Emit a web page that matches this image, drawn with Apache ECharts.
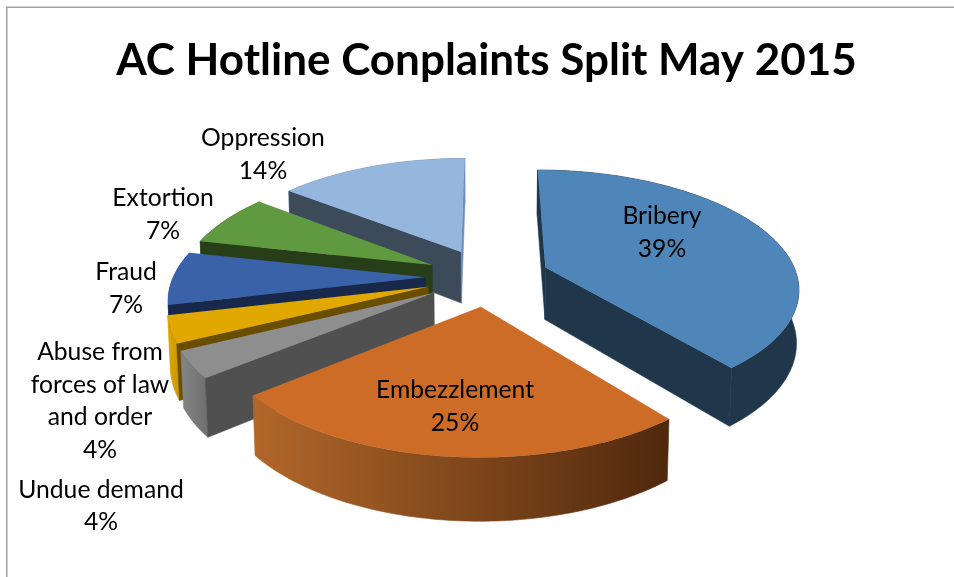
<!DOCTYPE html>
<html>
<head>
<meta charset="utf-8">
<style>html,body{margin:0;padding:0;background:#fff}#c{width:954px;height:577px}</style>
<script src="https://cdn.jsdelivr.net/npm/echarts@6/dist/echarts.min.js"></script>
</head>
<body>
<div id="c"></div>
<script>
const titleText = 'AC Hotline Conplaints Split May 2015';
const categories = ['Bribery','Embezzlement','Undue demand','Abuse from forces of law and order','Fraud','Extortion','Oppression'];
const values = [39.2,24.9,3.6,3.6,7.2,7.1,14.4];

// label wrapping and placement (layout only)
const labelLines = [['Bribery'],['Embezzlement'],['Undue demand'],['Abuse from','forces of law','and order'],['Fraud'],['Extortion'],['Oppression']];
const labelAt = [[662,232.5],[455,406.5],[101,506],[100,401],[126,288.5],[163,214.5],[263,154.5]];

// colours per slice: top face, start cut, end cut, rim gradient stops
const topColors = ['#4F86BA','#CD6C27','#8E8E8E','#E0A800','#3A62A8','#5F9940','#95B6DD'];
const startCut  = ['#20364B','#7C431A','#505050','#6A4E00','#18284A','#283E18','#3C4A5A'];
const endCut    = ['#20364B','#5A2E10','#6a6a6a','#B88A00','#18284A','#283E18','#6C8DB5'];
const rimStops  = [['#20364B','#20364B'],['#B2672A','#4F280D'],['#858585','#6E6E6E'],['#E0A800','#C89600'],['#2C4A80','#2C4A80'],['#486F30','#486F30'],['#6C8DB5','#6C8DB5']];

// 3-D view of the pie plane
const VIEW = {cx:487.5, cy:277, s:252, sk:116, p:0.16, h:53, q:0.008, explode:0.247};
function project(u,v,down){
  const w = 1 - VIEW.p*v + (down?VIEW.q:0);
  return [VIEW.cx + VIEW.s*u/w, VIEW.cy + (VIEW.sk*v + (down?VIEW.h:0))/w];
}
const total = values.reduce((a,b)=>a+b,0);
const spans = []; let acc = 0;
values.forEach(v=>{const a=acc/total*2*Math.PI; acc+=v; spans.push([a,acc/total*2*Math.PI]);});
const apexV = spans.map(s=>-Math.cos((s[0]+s[1])/2)*VIEW.explode);
const rank = apexV.map((v,i)=>i).sort((a,b)=>apexV[a]-apexV[b]);

function renderSlice(params, api){
  const i = params.dataIndex, val = api.value(0);
  const [t0,t1] = spans[i], m=(t0+t1)/2;
  const ou = Math.sin(m)*VIEW.explode, ov = -Math.cos(m)*VIEW.explode;
  const n = Math.max(4,Math.ceil((t1-t0)/(Math.PI/180)));
  const topArc=[], botArc=[];
  for(let k=0;k<=n;k++){
    const t=t0+(t1-t0)*k/n, u=ou+Math.sin(t), v=ov-Math.cos(t);
    topArc.push(project(u,v,false)); botArc.push(project(u,v,true));
  }
  const a=project(ou,ov,false), ab=project(ou,ov,true);
  const base = rank.indexOf(i)*10;
  const cross=(p,q)=>(p[0]-a[0])*(q[1]-a[1])-(p[1]-a[1])*(q[0]-a[0]);
  const kids=[];
  const rimFill=new echarts.graphic.LinearGradient(0,0,1,0,[{offset:0,color:rimStops[i][0]},{offset:1,color:rimStops[i][1]}]);
  kids.push({type:'polygon',z2:base,shape:{points:topArc.concat(botArc.slice().reverse())},
    style:{fill:rimFill,stroke:rimFill,lineWidth:0.6}});
  const r0=topArc[0], r1=topArc[n];
  if(cross(r0,ab)<0) kids.push({type:'polygon',z2:base+1,shape:{points:[a,r0,botArc[0],ab]},style:{fill:startCut[i],stroke:startCut[i],lineWidth:0.6}});
  if(cross(r1,ab)>0) kids.push({type:'polygon',z2:base+1,shape:{points:[a,r1,botArc[n],ab]},style:{fill:endCut[i],stroke:endCut[i],lineWidth:0.6}});
  kids.push({type:'polygon',z2:base+2,shape:{points:[a].concat(topArc)},style:{fill:topColors[i]}});
  kids.push({type:'text',z2:200,style:{x:labelAt[i][0],y:labelAt[i][1],
    text:labelLines[i].concat([Math.round(val/total*100)+'%']).join('\n'),
    font:'24.7px Lato',lineHeight:32.7,fill:'#000',align:'center',verticalAlign:'middle'}});
  return {type:'group',children:kids};
}

const chart = echarts.init(document.getElementById('c'),null,{renderer:'canvas'});
chart.setOption({
  animation:false,
  backgroundColor:'#fff',
  title:{text:titleText,left:481.5,top:34,textAlign:'center',
    textStyle:{fontFamily:'Lato',fontWeight:'bold',fontSize:44,color:'#000'}},
  graphic:[{type:'rect',silent:true,shape:{x:6.75,y:7.25,width:1000,height:700},style:{fill:'none',stroke:'#A0A0A0',lineWidth:1.5}}],
  series:[{type:'custom',coordinateSystem:'none',renderItem:renderSlice,silent:true,
    data:values.map((v,i)=>({name:categories[i],value:[v]}))}]
});
</script>
</body>
</html>
